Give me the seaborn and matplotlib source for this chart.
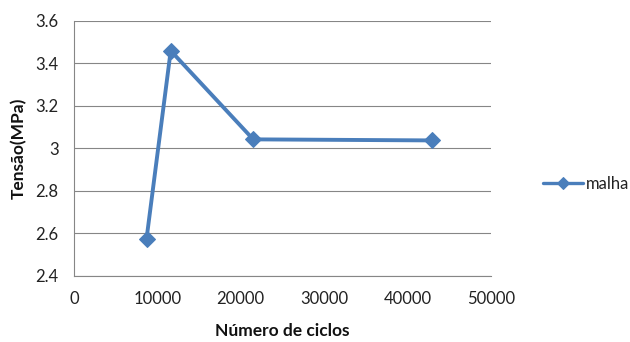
import matplotlib
matplotlib.use("Agg")
import matplotlib.pyplot as plt
import seaborn as sns
import pandas as pd

ciclos = [8700, 11600, 21500, 43000]
tensao = [2.575, 3.46, 3.043, 3.038]
serie = ["malha"] * 4
x_ticks = [0, 10000, 20000, 30000, 40000, 50000]
y_ticks = [2.4, 2.6, 2.8, 3.0, 3.2, 3.4, 3.6]
y_labels = ["2.4", "2.6", "2.8", "3", "3.2", "3.4", "3.6"]

sns.set_style("white")
plt.rcParams['font.family'] = ['Lato', 'DejaVu Sans']

df = pd.DataFrame({"ciclos": ciclos, "tensao": tensao, "serie": serie})

fig = plt.figure(figsize=(6.3, 3.42), dpi=100)
ax = fig.add_axes([0.1175, 0.193, 0.6615, 0.7456])
color = "#4A7EBB"
sns.lineplot(data=df, x="ciclos", y="tensao", hue="serie", palette=[color],
             marker="D", markersize=8, linewidth=2.8, markeredgecolor=color,
             ax=ax, sort=False)

ax.set_xlim(0, 50000)
ax.set_ylim(2.4, 3.6)
ax.set_xticks(x_ticks)
ax.set_xticklabels([str(t) for t in x_ticks])
ax.set_yticks(y_ticks)
ax.set_yticklabels(y_labels)
ax.yaxis.grid(True, color="#868686", linewidth=0.8)
ax.xaxis.grid(False)
for s in ["top", "right"]:
    ax.spines[s].set_visible(False)
for s in ["left", "bottom"]:
    ax.spines[s].set_color("#868686")
    ax.spines[s].set_linewidth(0.8)
ax.tick_params(axis="both", which="major", direction="out", length=5,
               color="#868686", labelsize=12, labelcolor="#222222", pad=6)
ax.set_xlabel("Número de ciclos", fontsize=12.5, fontweight="bold", labelpad=11,
              color="#111111")
ax.set_ylabel("Tensão(MPa)", fontsize=12.5, fontweight="bold", labelpad=6,
              color="#111111")

leg = ax.legend(loc="center left", bbox_to_anchor=(1.09, 0.36), frameon=False,
                fontsize=12, handlelength=2.4, handletextpad=0.15, markerscale=0.75)
for t in leg.get_texts():
    t.set_color("#222222")
for h in leg.get_lines():
    h.set_linewidth(2.4)

fig.savefig("out.png", dpi=100)
